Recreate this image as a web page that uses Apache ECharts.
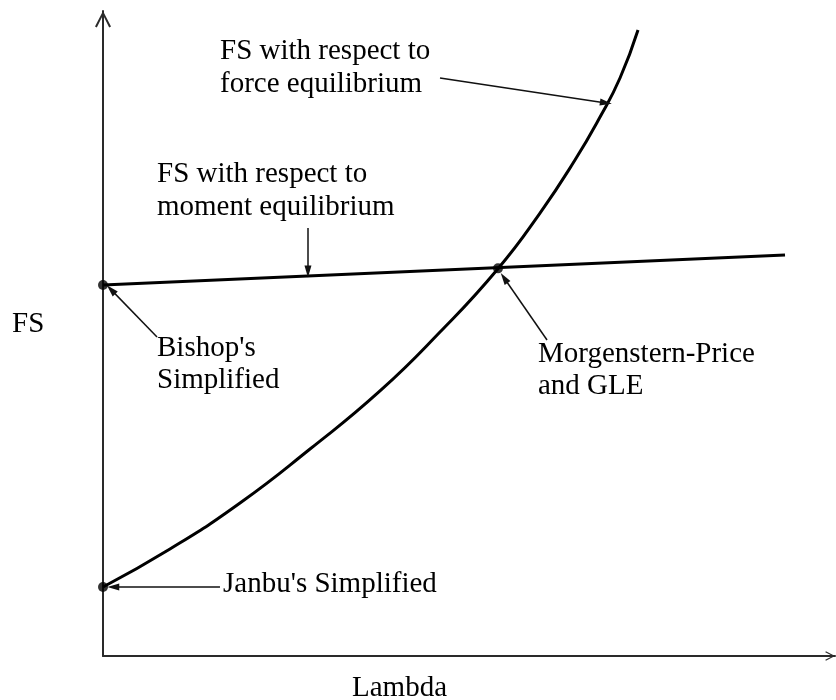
<!DOCTYPE html>
<html>
<head>
<meta charset="utf-8">
<script src="https://cdn.jsdelivr.net/npm/echarts@6/dist/echarts.min.js"></script>
<style>html,body{margin:0;padding:0;background:#fff;}#chart{width:836px;height:700px;}</style>
</head>
<body>
<div id="chart"></div>
<script>
// ---- data (lambda vs FS, arbitrary units 0..100) ----
const forceLambda = [0, 9.15, 18.72, 28.28, 37.84, 46.04, 53.96, 59.70, 64.48, 67.90, 70.63, 73.09];
const forceFS     = [10.70, 16.59, 23.72, 32.09, 41.09, 50.23, 60.05, 68.68, 76.90, 83.57, 89.61, 97.05];
const momentLambda = [0, 93.17];
const momentFS     = [57.52, 62.17];
const pointNames  = ["Bishop's Simplified", "Morgenstern-Price and GLE", "Janbu's Simplified"];
const pointLambda = [0, 53.96, 0];
const pointFS     = [57.52, 60.10, 10.70];
// annotation arrows: [fromLambda, fromFS] -> [toLambda, toFS]
const arrowFrom = [[46.04, 89.61], [28.0, 66.36], [7.38, 49.46], [60.66, 48.99], [15.98, 10.70]];
const arrowTo   = [[68.70, 85.74], [28.0, 59.60], [1.10, 56.80], [54.80, 58.60], [1.40, 10.70]];
// texts
const xAxisName = "Lambda";
const yAxisName = "FS";
const annotationLines = [
  "FS with respect to", "force equilibrium",
  "FS with respect to", "moment equilibrium",
  "Bishop's", "Simplified",
  "Morgenstern-Price", "and GLE",
  "Janbu's Simplified"
];

// ---- layout (pixel positions of text baselines) ----
const textPos = [[220,61],[220,94],[157,184],[157,217],[157,358],[157,390],[538,364],[538,396],[223,594]];
const FONT = '29px "Liberation Serif", "Times New Roman", serif';

const chart = echarts.init(document.getElementById('chart'), null, {renderer:'canvas'});
const chevron = 'path://M8,0 L16,15.5 L14.2,16.5 L8,4 L1.8,16.5 L0,15.5 Z M7.1,1 L8.9,1 L8.9,17 L7.1,17 Z';

function txt(t, x, base){
  return {type:'text', x:x, y:base-10, silent:true,
    style:{text:t, font:FONT, fill:'#000', verticalAlign:'middle', align:'left'}};
}
const graphics = annotationLines.map((t,i)=>txt(t, textPos[i][0], textPos[i][1]));
graphics.push(txt(yAxisName, 12, 334));
graphics.push(txt(xAxisName, 352, 698));

const zip = (a,b)=>a.map((v,i)=>[v,b[i]]);

chart.setOption({
  animation:false,
  backgroundColor:'#fff',
  grid:{left:103, right:1, top:11, bottom:44, containLabel:false},
  xAxis:{type:'value', min:0, max:100,
    axisLine:{show:true, onZero:false, lineStyle:{color:'#2a2a2a', width:2},
      symbol:['none', chevron], symbolSize:[16,10], symbolOffset:[0,-5]},
    axisTick:{show:false}, axisLabel:{show:false}, splitLine:{show:false}},
  yAxis:{type:'value', min:0, max:100,
    axisLine:{show:true, onZero:false, lineStyle:{color:'#2a2a2a', width:2},
      symbol:['none', chevron], symbolSize:[16,17], symbolOffset:[0,-8.5]},
    axisTick:{show:false}, axisLabel:{show:false}, splitLine:{show:false}},
  series:[
    {name:'moment', type:'line', data:zip(momentLambda, momentFS), showSymbol:false, symbol:'none',
      lineStyle:{color:'#000', width:3}, silent:true},
    {name:'force', type:'line', data:zip(forceLambda, forceFS), smooth:0.5,
      showSymbol:false, symbol:'none',
      lineStyle:{color:'#000', width:3}, silent:true},
    {name:'points', type:'scatter', data:pointLambda.map((v,i)=>({name:pointNames[i], value:[v, pointFS[i]]})),
      symbolSize:10, itemStyle:{color:'#000'}, silent:true, z:5,
      markLine:{silent:true, symbol:['none','triangle'], symbolSize:[7,12],
        label:{show:false}, lineStyle:{color:'#111', width:1.5, type:'solid'},
        emphasis:{disabled:true},
        data:arrowFrom.map((f,i)=>[{coord:f}, {coord:arrowTo[i]}])}}
  ],
  graphic:graphics
});
</script>
</body>
</html>
